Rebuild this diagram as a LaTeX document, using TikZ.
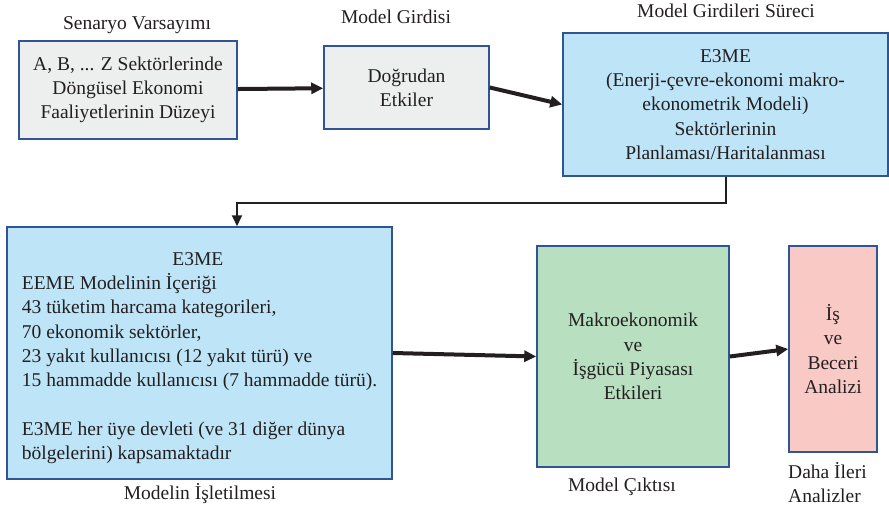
\documentclass[tikz,border=0pt]{standalone}
\usepackage{fontspec}
\setmainfont{Liberation Serif}
\usetikzlibrary{arrows.meta,positioning}
\definecolor{edgeblue}{HTML}{2F5597}
\definecolor{boxgrey}{HTML}{EDEEEE}
\definecolor{boxblue}{HTML}{BDE4F7}
\definecolor{boxgreen}{HTML}{B7DFC0}
\definecolor{boxpink}{HTML}{F9C9C6}
\definecolor{inkgrey}{HTML}{231F20}
\tikzset{
  box/.style={draw=edgeblue,line width=1.5pt,inner sep=0pt,align=center,text=inkgrey,
    font=\fontsize{19.5}{24.3}\selectfont},
  lab/.style={text=inkgrey,font=\fontsize{19.5}{24.3}\selectfont,inner sep=0pt},
  flow/.style={-{Triangle[length=12pt,width=11pt]},line width=4pt,inkgrey}
}

\begin{document}
\begin{tikzpicture}[x=1pt,y=-1pt]
        \useasboundingbox (0,0) rectangle (889,511);
        % upper row
        \node[box,fill=boxgrey,minimum width=218pt,minimum height=98pt] (A) at (128,90)
            {A, B, ... Z Sektörlerinde\\Döngüsel Ekonomi\\Faaliyetlerinin Düzeyi};
        \node[box,fill=boxgrey,minimum width=165pt,minimum height=83pt] (B) at (406.5,87.5)
            {Doğrudan\\Etkiler};
        \node[box,fill=boxblue,minimum width=325pt,minimum height=143pt] (C) at (725.5,104.5)
            {E3ME\\(Enerji-çevre-ekonomi makro-\\ekonometrik Modeli)\\Sektörlerinin\\Planlaması/Haritalanması};
        \node[lab,anchor=base] (labA) at (137,30) {Senaryo Varsayımı};
        \node[lab,anchor=base] (labB) at (396,24) {Model Girdisi};
        \node[lab,anchor=base] (labC) at (726,18) {Model Girdileri Süreci};

        % lower row
        \node[box,fill=boxblue,minimum width=385pt,minimum height=252pt,align=left] (D) at (199.5,353)
            {\rule{0pt}{23pt}\makebox[352pt]{E3ME}\\EEME Modelinin İçeriği\\43 tüketim harcama kategorileri,\\70 ekonomik sektörler,\\
             23 yakıt kullanıcısı (12 yakıt türü) ve\\15 hammadde kullanıcısı (7 hammadde türü).\\[24.3pt]
             E3ME her üye devleti (ve 31 diğer dünya\\bölgelerini) kapsamaktadır};
        \node[box,fill=boxgreen,minimum width=192pt,minimum height=221pt] (E) at (633,356.5)
            {Makroekonomik\\ve\\İşgücü Piyasası\\Etkileri};
        \node[box,fill=boxpink,minimum width=88pt,minimum height=206pt] (F) at (833,349)
            {İş\\ve\\Beceri\\Analizi};
        \node[lab,anchor=base] (labD) at (200,499) {Modelin İşletilmesi};
        \node[lab,anchor=base] (labE) at (622,491) {Model Çıktısı};
        \node[lab,anchor=west,align=left] (labF) at (788,482.5) {Daha İleri\\Analizler};

        % connectors
        \draw[flow] (A) -- (B);
        \draw[flow] (B.east) -- (C.west);
        \draw[-{Triangle[length=11pt,width=10pt]},line width=2pt,inkgrey] (C.south) -- ++(0,26) -| ([xshift=37.5pt]D.north);
        \draw[flow] (D.east) -- (E.west);
        \draw[flow] (E.east) -- (F.west);
\end{tikzpicture}
\end{document}
